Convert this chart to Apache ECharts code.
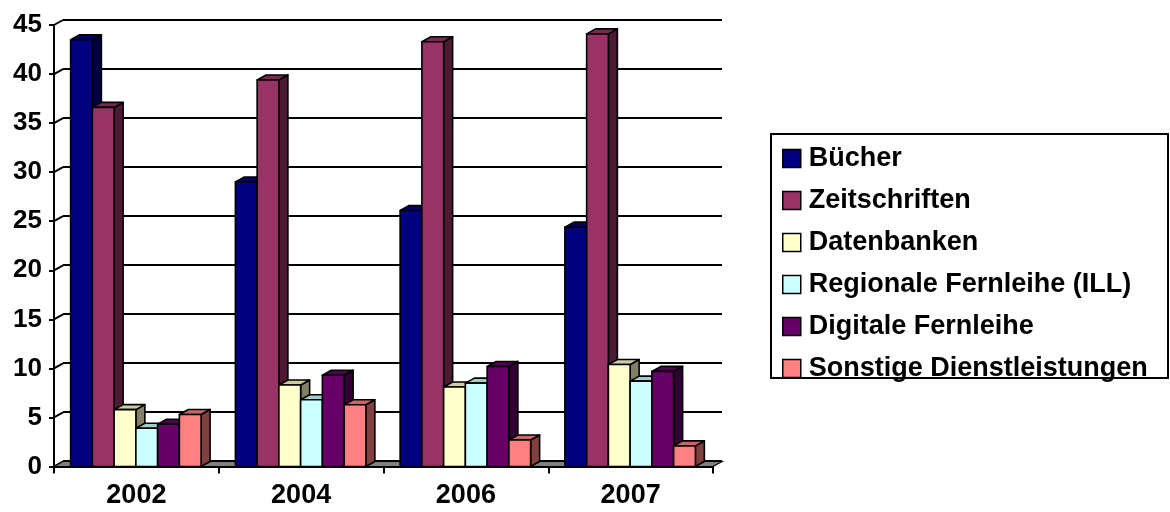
<!DOCTYPE html>
<html>
<head>
<meta charset="utf-8">
<script src="https://cdn.jsdelivr.net/npm/echarts@6/dist/echarts.min.js"></script>
<style>
html,body{margin:0;padding:0;background:#fff;}
#chart{width:1170px;height:512px;}
</style>
</head>
<body>
<div id="chart"></div>
<script>
// ---- data ----
const categories = ['2002', '2004', '2006', '2007'];
const buecher       = [43.5, 29.0, 26.1, 24.4];
const zeitschriften = [36.6, 39.4, 43.3, 44.1];
const datenbanken   = [5.8, 8.3, 8.1, 10.4];
const regionale     = [3.9, 6.8, 8.5, 8.7];
const digitale      = [4.3, 9.3, 10.2, 9.7];
const sonstige      = [5.3, 6.3, 2.7, 2.1];
const seriesNames = ['Bücher', 'Zeitschriften', 'Datenbanken', 'Regionale Fernleihe (ILL)', 'Digitale Fernleihe', 'Sonstige Dienstleistungen'];
const yTicks = [0, 5, 10, 15, 20, 25, 30, 35, 40, 45];

// ---- styles ----
const seriesValues = [buecher, zeitschriften, datenbanken, regionale, digitale, sonstige];
const colors = ['#000080', '#993366', '#FFFFCC', '#CCFFFF', '#660066', '#FF8080'];
const DX = 9, DY = 5;          // 3D depth offset
const BAR_OFF = 0.101, BAR_W = 0.132;
const FONT = '"Liberation Sans", Arial, sans-serif';

function shade(hex, f) {
  const n = parseInt(hex.slice(1), 16);
  const r = Math.round(((n >> 16) & 255) * f), g = Math.round(((n >> 8) & 255) * f), b = Math.round((n & 255) * f);
  return 'rgb(' + r + ',' + g + ',' + b + ')';
}

function barRender(idx, color) {
  return function (params, api) {
    const ci = api.value(0), v = api.value(1);
    const band = api.size([1, 0])[0];
    const top = api.coord([ci, v]);
    const base = api.coord([ci, 0]);
    const w = band * BAR_W;
    const x0 = top[0] - band / 2 + band * BAR_OFF + idx * w;
    const x1 = x0 + w;
    const yT = top[1], yB = base[1];
    const stroke = { stroke: '#000', lineWidth: 1.6, lineJoin: 'round' };
    return {
      type: 'group',
      children: [
        { type: 'polygon', shape: { points: [[x1, yT], [x1 + DX, yT - DY], [x1 + DX, yB - DY], [x1, yB]] },
          style: Object.assign({ fill: shade(color, 0.5) }, stroke) },
        { type: 'polygon', shape: { points: [[x0, yT], [x1, yT], [x1 + DX, yT - DY], [x0 + DX, yT - DY]] },
          style: Object.assign({ fill: shade(color, 0.8) }, stroke) },
        { type: 'rect', shape: { x: x0, y: yT, width: w, height: yB - yT },
          style: Object.assign({ fill: color }, stroke) }
      ]
    };
  };
}

const barSeries = seriesNames.map(function (name, i) {
  return {
    name: name,
    type: 'custom',
    xAxisIndex: 0, yAxisIndex: 0,
    renderItem: barRender(i, colors[i]),
    itemStyle: { color: colors[i] },
    encode: { x: 0, y: 1 },
    z: 5,
    data: seriesValues[i].map(function (v, ci) { return [ci, v]; })
  };
});

const floorSeries = {
  type: 'custom', silent: true, xAxisIndex: 0, yAxisIndex: 0, z: 3,
  encode: { x: 0, y: 1 },
  data: [[0, 0]],
  renderItem: function (params, api) {
    const band = api.size([1, 0])[0];
    const a = api.coord([0, 0]);
    const b = api.coord([categories.length - 1, 0]);
    const xl = a[0] - band / 2, xr = b[0] + band / 2, y = a[1];
    return { type: 'polygon', shape: { points: [[xl, y], [xr, y], [xr + DX, y - DY], [xl + DX, y - DY]] },
      style: { fill: '#808080', stroke: '#000', lineWidth: 1.2 } };
  }
};

const connectorSeries = {
  type: 'custom', silent: true, xAxisIndex: 0, yAxisIndex: 0, z: 2,
  encode: { x: 0, y: 1 },
  data: yTicks.map(function (v) { return [0, v]; }),
  renderItem: function (params, api) {
    const band = api.size([1, 0])[0];
    const p = api.coord([0, api.value(1)]);
    const x = p[0] - band / 2;
    return { type: 'line', shape: { x1: x, y1: p[1], x2: x + DX, y2: p[1] - DY },
      style: { stroke: '#000', lineWidth: 2 } };
  }
};

const chart = echarts.init(document.getElementById('chart'), null, { renderer: 'canvas' });
chart.setOption({
  animation: false,
  backgroundColor: '#fff',
  grid: [
    { left: 54, right: 457, top: 25, bottom: 45.5 },
    { left: 63, right: 448, top: 20, bottom: 51 }
  ],
  xAxis: [
    { type: 'category', gridIndex: 0, data: categories, boundaryGap: true,
      axisLine: { show: true, lineStyle: { color: '#000', width: 2 } },
      axisTick: { show: true, length: 7, lineStyle: { color: '#000', width: 2 } },
      axisLabel: { color: '#000', fontSize: 27, fontWeight: 'bold', fontFamily: FONT, margin: 16 },
      splitLine: { show: false } },
    { type: 'category', gridIndex: 1, data: categories, show: false }
  ],
  yAxis: [
    { type: 'value', gridIndex: 0, min: 0, max: 45, interval: 5,
      axisLine: { show: true, lineStyle: { color: '#000', width: 2 } },
      axisTick: { show: true, length: 5, lineStyle: { color: '#000', width: 2 } },
      axisLabel: { color: '#000', fontSize: 26, fontWeight: 'bold', fontFamily: FONT, margin: 12 },
      splitLine: { show: false } },
    { type: 'value', gridIndex: 1, min: 0, max: 45, interval: 5,
      axisLine: { show: false }, axisTick: { show: false }, axisLabel: { show: false },
      splitLine: { show: true, lineStyle: { color: '#000', width: 2 } } }
  ],
  legend: {
    data: seriesNames,
    orient: 'vertical',
    left: 782, top: 145,
    padding: 0,
    itemWidth: 18, itemHeight: 18, itemGap: 15,
    icon: 'rect',
    selectedMode: false,
    itemStyle: { borderColor: '#000', borderWidth: 1.5 },
    textStyle: { color: '#000', fontSize: 27, fontWeight: 'bold', fontFamily: FONT, lineHeight: 26, padding: [0, 0, 0, 3] }
  },
  graphic: [
    { type: 'rect', shape: { x: 771, y: 134, width: 397, height: 244 },
      style: { fill: 'none', stroke: '#000', lineWidth: 2 }, z: 10 }
  ],
  series: [floorSeries, connectorSeries].concat(barSeries)
});
</script>
</body>
</html>
